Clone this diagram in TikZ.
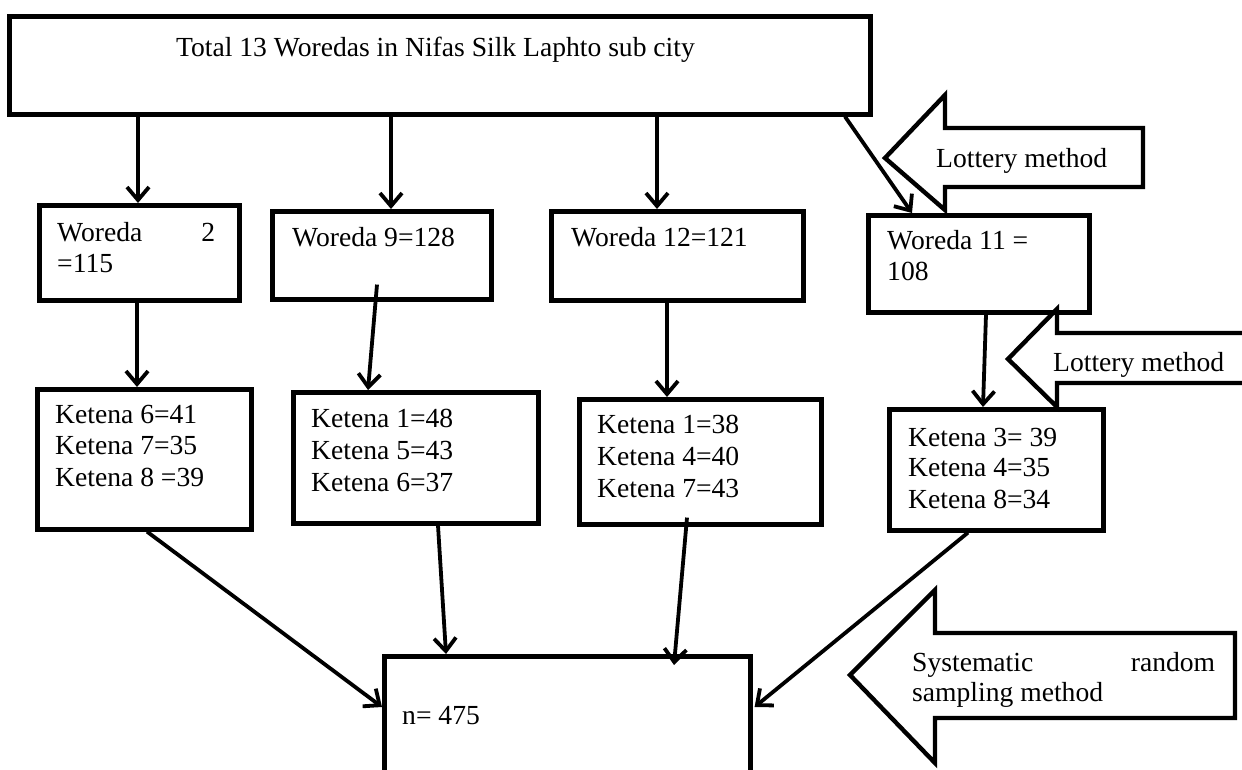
\documentclass[tikz,border=0pt]{standalone}
\usepackage{fontspec}
\setmainfont{Liberation Serif}
\usetikzlibrary{arrows.meta,calc}
\begin{document}
\begin{tikzpicture}[x=1pt,y=-1pt,
  box/.style={draw, line width=4.6pt, inner sep=0pt, anchor=north west},
  conn/.style={line width=3.8pt, -{Straight Barb[length=13pt,width=22pt]}},
  blk/.style={draw, line width=4.4pt, line join=miter},
  txt/.style={anchor=base west, inner sep=0pt, font=\fontsize{27.6}{31}\selectfont}]
\useasboundingbox (0,0) rectangle (1242,770);
\clip (0,0) rectangle (1242,770);

% boxes
\node[box, minimum width=861pt, minimum height=98pt] (top) at (7,14) {};
\node[box, minimum width=200pt, minimum height=95pt] (w2) at (37,203) {};
\node[box, minimum width=219pt, minimum height=88pt] (w9) at (270,209) {};
\node[box, minimum width=252pt, minimum height=89pt] (w12) at (549,209) {};
\node[box, minimum width=221pt, minimum height=97pt] (w11) at (866,213) {};
\node[box, minimum width=214pt, minimum height=140pt] (k1) at (35,387) {};
\node[box, minimum width=245pt, minimum height=131pt] (k2) at (291,390) {};
\node[box, minimum width=242pt, minimum height=125pt] (k3) at (577,397) {};
\node[box, minimum width=214pt, minimum height=121pt] (k4) at (887,407) {};
\node[box, minimum width=366pt, minimum height=140pt] (n) at (382,654) {};

% texts
\node[txt] (toptxt) at (176,57) {Total 13 Woredas in Nifas Silk Laphto sub city};
\node[txt] (w2a) at (57,241) {\hbox to 158pt{Woreda\hfill 2}};
\node[txt] (w2b) at (57,272) {=115};
\node[txt] (w9a) at (292,246) {Woreda 9=128};
\node[txt] (w12a) at (571,246) {Woreda 12=121};
\node[txt] (w11a) at (887,249) {Woreda 11 =};
\node[txt] (w11b) at (887,280) {108};
\node[txt] (k1a) at (55,423) {Ketena 6=41};
\node[txt] (k1b) at (55,454) {Ketena 7=35};
\node[txt] (k1c) at (55,486) {Ketena 8 =39};
\node[txt] (k2a) at (311,427) {Ketena 1=48};
\node[txt] (k2b) at (311,459) {Ketena 5=43};
\node[txt] (k2c) at (311,491) {Ketena 6=37};
\node[txt] (k3a) at (597,433) {Ketena 1=38};
\node[txt] (k3b) at (597,465) {Ketena 4=40};
\node[txt] (k3c) at (597,497) {Ketena 7=43};
\node[txt] (k4a) at (908,446) {Ketena 3= 39};
\node[txt] (k4b) at (908,476) {Ketena 4=35};
\node[txt] (k4c) at (908,508) {Ketena 8=34};
\node[txt] (ntxt) at (402,724) {n= 475};

% connector end points
\coordinate (c1s) at ($(top.south west)+(131,0)$);
\coordinate (c1e) at ($(w2.north west)+(101,0)$);
\coordinate (c2s) at ($(top.south west)+(384,0)$);
\coordinate (c2e) at ($(w9.north west)+(121,0)$);
\coordinate (c3s) at ($(top.south west)+(650,0)$);
\coordinate (c3e) at ($(w12.north west)+(108,0)$);
\coordinate (c4s) at ($(top.south west)+(838,0)$);
\coordinate (c4e) at ($(w11.north west)+(46,0)$);
\coordinate (c5s) at ($(w2.south west)+(100,0)$);
\coordinate (c5e) at ($(k1.north west)+(102,0)$);
\coordinate (c6s) at ($(w9.south west)+(107,-17)$);
\coordinate (c6e) at ($(k2.north west)+(77,0)$);
\coordinate (c7s) at ($(w12.south west)+(118,0)$);
\coordinate (c7e) at ($(k3.north west)+(90,0)$);
\coordinate (c8s) at ($(w11.south west)+(120,0)$);
\coordinate (c8e) at ($(k4.north west)+(96,0)$);
\coordinate (c9s) at ($(k1.south west)+(112,0)$);
\coordinate (c9e) at ($(n.north west)+(0,53)$);
\coordinate (c10s) at ($(k2.south west)+(147,0)$);
\coordinate (c10e) at ($(n.north west)+(64,0)$);
\coordinate (c11s) at ($(k3.south west)+(110,-9)$);
\coordinate (c11e) at ($(n.north west)+(292,11)$);
\coordinate (c12s) at ($(k4.south west)+(81,0)$);
\coordinate (c12e) at ($(n.north east)+(2,53)$);

\draw[conn] (c1s) -- (c1e);
\draw[conn] (c2s) -- (c2e);
\draw[conn] (c3s) -- (c3e);
\draw[conn] (c4s) -- (c4e);
\draw[conn] (c5s) -- (c5e);
\draw[conn] (c6s) -- (c6e);
\draw[conn] (c7s) -- (c7e);
\draw[conn] (c8s) -- (c8e);
\draw[conn] (c9s) -- (c9e);
\draw[conn] (c10s) -- (c10e);
\draw[conn] (c11s) -- (c11e);
\draw[conn] (c12s) -- (c12e);

% block arrows
\draw[blk] (885,158) -- (945,95) -- (945,128) -- (1143,128) -- (1143,187) -- (945,187) -- (945,210) -- cycle;
\node[txt] (lot1) at (936,168) {Lottery method};
\draw[blk] (1008,359) -- (1057,309) -- (1057,333) -- (1262,333) -- (1262,383) -- (1057,383) -- (1057,407) -- cycle;
\node[txt] (lot2) at (1053,371) {Lottery method};
\draw[blk] (850,675) -- (935,590) -- (935,633) -- (1235,633) -- (1235,718) -- (935,718) -- (935,763) -- cycle;
\node[txt] (sys1) at (912,671) {\hbox to 303pt{Systematic\hfill random}};
\node[txt] (sys2) at (912,701) {sampling method};
\end{tikzpicture}
\end{document}
